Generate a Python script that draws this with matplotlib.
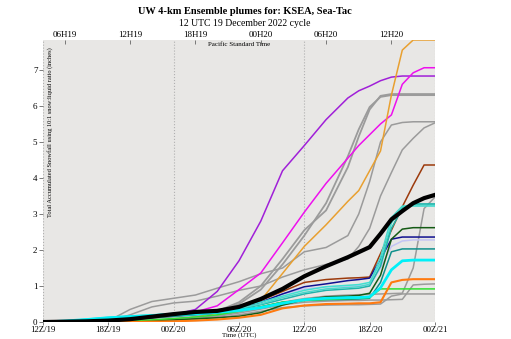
import matplotlib
import matplotlib.pyplot as plt

matplotlib.use("Agg")
plt.rcParams["font.family"] = ["Liberation Serif", "DejaVu Serif"]

# forecast hour since 12Z/19 (2-hourly early, hourly at the end)
HOURS = [0, 2, 4, 6, 8, 10, 12, 14, 16, 18, 20, 22, 24, 26, 28, 29, 30, 31, 32, 33, 34, 35, 36]

UTC_TICKS = [0, 6, 12, 18, 24, 30, 36]
UTC_LABELS = ["12Z/19", "18Z/19", "00Z/20", "06Z/20", "12Z/20", "18Z/20", "00Z/21"]
PST_TICKS = [2, 8, 14, 20, 26, 32]
PST_LABELS = ["06H19", "12H19", "18H19", "00H20", "06H20", "12H20"]

# accumulated snowfall (inches) per member
gray_a = [0, 0, 0.01, 0.03, 0.35, 0.57, 0.66, 0.75, 0.94, 1.12, 1.34, 1.5, 1.95, 2.07, 2.4, 3.0, 3.9, 5.0, 5.47, 5.54, 5.56, 5.56, 5.56]
gray_b = [0, 0, 0.01, 0.02, 0.2, 0.42, 0.53, 0.58, 0.72, 0.88, 1.0, 1.25, 1.45, 1.6, 1.75, 2.1, 2.6, 3.5, 4.15, 4.78, 5.1, 5.39, 5.53]
gray_c = [0, 0, 0.01, 0.02, 0.04, 0.07, 0.12, 0.18, 0.28, 0.5, 0.9, 1.6, 2.4, 3.3, 4.6, 5.35, 5.97, 6.25, 6.3, 6.3, 6.3, 6.3, 6.3]
gray_d = [0, 0, 0.01, 0.02, 0.05, 0.08, 0.14, 0.2, 0.3, 0.55, 1.0, 1.75, 2.55, 3.1, 4.3, 5.15, 5.9, 6.28, 6.33, 6.33, 6.33, 6.33, 6.33]
gray_e = [0, 0, 0.01, 0.02, 0.03, 0.05, 0.08, 0.12, 0.18, 0.28, 0.42, 0.55, 0.65, 0.72, 0.75, 0.76, 0.77, 0.78, 0.79, 0.8, 1.5, 3.15, 3.47]
gray_f = [0, 0, 0, 0.01, 0.02, 0.04, 0.07, 0.11, 0.16, 0.25, 0.36, 0.48, 0.55, 0.58, 0.6, 0.6, 0.61, 0.61, 0.62, 0.63, 1.03, 1.05, 1.06]
gray_g = [0, 0, 0, 0.01, 0.02, 0.03, 0.05, 0.08, 0.12, 0.2, 0.3, 0.4, 0.45, 0.47, 0.48, 0.48, 0.49, 0.5, 0.72, 0.78, 0.78, 0.78, 0.78]
violet = [0, 0.01, 0.03, 0.05, 0.08, 0.13, 0.2, 0.35, 0.85, 1.7, 2.8, 4.2, 4.9, 5.62, 6.22, 6.42, 6.55, 6.7, 6.8, 6.83, 6.83, 6.83, 6.83]
magenta = [0, 0.01, 0.02, 0.04, 0.07, 0.12, 0.2, 0.28, 0.45, 0.9, 1.36, 2.2, 3.05, 3.85, 4.55, 4.9, 5.2, 5.5, 5.75, 6.6, 6.92, 7.06, 7.06]
gold = [0, 0, 0.01, 0.02, 0.04, 0.07, 0.12, 0.17, 0.24, 0.35, 0.6, 1.35, 2.1, 2.7, 3.35, 3.65, 4.2, 4.75, 6.3, 7.55, 7.83, 7.83, 7.83]
brown = [0, 0, 0.01, 0.02, 0.04, 0.07, 0.12, 0.18, 0.26, 0.4, 0.6, 0.85, 1.1, 1.18, 1.22, 1.23, 1.25, 1.9, 2.55, 3.2, 3.8, 4.36, 4.36]
navy = [0, 0, 0.01, 0.03, 0.06, 0.12, 0.24, 0.27, 0.32, 0.4, 0.55, 0.78, 0.98, 1.06, 1.15, 1.18, 1.22, 1.75, 2.3, 2.36, 2.36, 2.36, 2.36]
lavender = [0, 0, 0.01, 0.02, 0.04, 0.07, 0.12, 0.18, 0.26, 0.38, 0.55, 0.78, 0.92, 0.98, 1.0, 1.01, 1.02, 1.5, 2.1, 2.25, 2.28, 2.28, 2.28]
dkgreen = [0, 0, 0, 0.01, 0.02, 0.04, 0.06, 0.09, 0.12, 0.16, 0.26, 0.47, 0.62, 0.7, 0.72, 0.74, 0.8, 1.3, 2.3, 2.58, 2.62, 2.62, 2.62]
teal = [0, 0.01, 0.03, 0.06, 0.09, 0.12, 0.16, 0.2, 0.25, 0.32, 0.42, 0.55, 0.6, 0.62, 0.63, 0.64, 0.66, 1.1, 1.95, 2.03, 2.03, 2.03, 2.03]
lime = [0, 0, 0.01, 0.02, 0.04, 0.06, 0.1, 0.14, 0.2, 0.3, 0.42, 0.55, 0.6, 0.63, 0.65, 0.66, 0.68, 0.92, 0.92, 0.92, 0.92, 0.92, 0.92]
dkorange = [0, 0, 0, 0, 0, 0.01, 0.02, 0.04, 0.07, 0.12, 0.2, 0.38, 0.46, 0.5, 0.51, 0.52, 0.52, 0.55, 1.1, 1.17, 1.19, 1.19, 1.19]
turq_a = [0, 0.03, 0.08, 0.13, 0.17, 0.2, 0.24, 0.27, 0.32, 0.42, 0.55, 0.72, 0.88, 0.98, 1.02, 1.04, 1.1, 1.65, 2.75, 3.2, 3.25, 3.25, 3.25]
turq_b = [0, 0.02, 0.05, 0.09, 0.12, 0.15, 0.18, 0.21, 0.26, 0.35, 0.48, 0.63, 0.78, 0.88, 0.92, 0.94, 1.0, 1.55, 2.6, 3.15, 3.28, 3.28, 3.28]
turq_c = [0, 0.02, 0.06, 0.1, 0.14, 0.17, 0.2, 0.23, 0.28, 0.38, 0.5, 0.68, 0.82, 0.92, 0.96, 0.98, 1.05, 1.8, 2.9, 3.22, 3.22, 3.22, 3.22]
cyan = [0, 0.03, 0.07, 0.12, 0.15, 0.18, 0.21, 0.23, 0.27, 0.32, 0.4, 0.52, 0.62, 0.66, 0.68, 0.68, 0.7, 0.95, 1.45, 1.7, 1.72, 1.72, 1.72]
ens_mean = [0, 0.01, 0.02, 0.04, 0.08, 0.15, 0.22, 0.28, 0.31, 0.42, 0.64, 0.92, 1.27, 1.55, 1.8, 1.94, 2.08, 2.45, 2.85, 3.08, 3.3, 3.44, 3.53]

GRAY = "#9b9b9b"
MEMBERS = [
    (gray_a, GRAY, 1.1), (gray_b, GRAY, 1.1), (gray_c, GRAY, 1.3), (gray_d, GRAY, 1.3),
    (gray_e, GRAY, 1.1), (gray_f, GRAY, 1.1), (gray_g, GRAY, 1.1),
    (violet, "#a020d8", 1.1), (magenta, "#ee10ee", 1.1), (gold, "#e8a030", 1.1),
    (brown, "#9c3a0c", 1.1), (lavender, "#c4c4f4", 1.1), (navy, "#101090", 1.1),
    (dkgreen, "#145a14", 1.1), (teal, "#10908c", 1.1), (lime, "#30e030", 1.1),
    (dkorange, "#ff7a10", 1.5), (turq_a, "#40e0d0", 1.1), (turq_b, "#20b2aa", 1.1),
    (turq_c, "#48d8cc", 1.1), (cyan, "#00f0f8", 2.0),
]

fig = plt.figure(figsize=(5.11, 3.39), dpi=100)
ax = fig.add_axes([0.0841, 0.050, 0.7671, 0.832])
ax.set_facecolor("#e8e7e5")
for s in ax.spines.values():
    s.set_visible(False)

for h in (0, 12, 24, 36):
    ax.axvline(h, color="#b0b0b0", lw=0.8, ls=":", zorder=1)

for vals, col, lw in MEMBERS:
    ax.plot(HOURS, vals, color=col, lw=lw, zorder=2)
ax.plot(HOURS, ens_mean, color="black", lw=3.0, zorder=3)

ax.set_xlim(0, 36)
ax.set_ylim(0, max(gold))
ax.set_xticks(UTC_TICKS)
ax.set_xticklabels(UTC_LABELS)
ax.set_yticks(range(8))
ax.tick_params(axis="both", length=3, width=0.6, color="#666666", labelsize=6.5, pad=1)
ax.tick_params(axis="x", length=2.5, labelsize=6.3, pad=0)

top = ax.secondary_xaxis("top")
top.set_xticks(PST_TICKS)
top.set_xticklabels(PST_LABELS)
top.tick_params(direction="in", length=3, width=0.6, color="#666666", labelsize=6.5, pad=1)
top.spines["top"].set_visible(False)

ax.text(0.5, 0.993, "Pacific Standard Time", transform=ax.transAxes,
        ha="center", va="top", fontsize=5)
ax.text(0.018, 0.975, "Total Accumulated Snowfall using 10:1 snow:liquid ratio (inches)",
        transform=ax.transAxes, rotation=90, ha="center", va="top", fontsize=4.6)

fig.text(239 / 511, 1 - 335.5 / 339, "Time (UTC)", ha="center", va="center", fontsize=5)
fig.text(245 / 511, 1 - 11 / 339, "UW 4-km Ensemble plumes for: KSEA, Sea-Tac",
         ha="center", va="center", fontsize=7.5, fontweight="bold")
fig.text(245 / 511, 1 - 24 / 339, "12 UTC 19 December 2022 cycle",
         ha="center", va="center", fontsize=7)

fig.savefig("out.png", dpi=100)
